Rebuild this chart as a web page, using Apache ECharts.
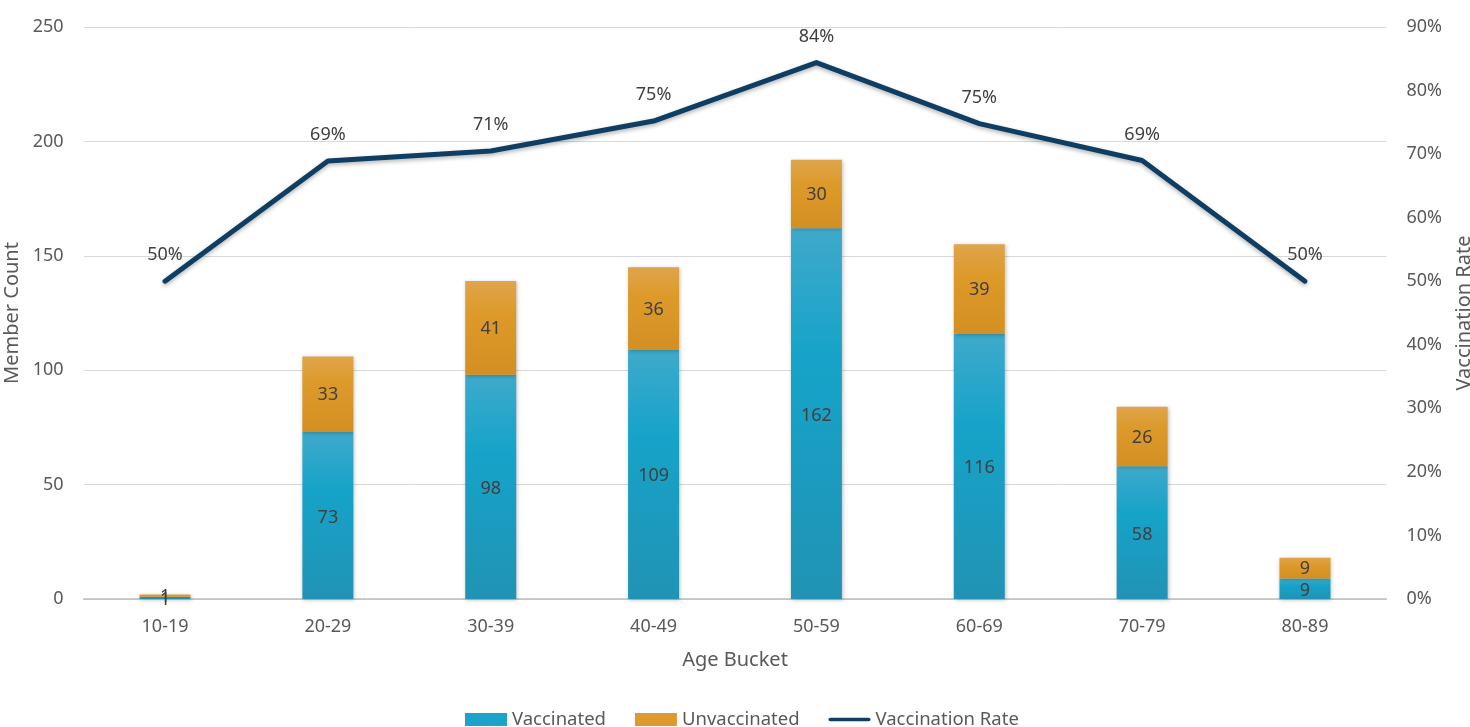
<!DOCTYPE html>
<html><head><meta charset="utf-8">
<script src="https://cdn.jsdelivr.net/npm/echarts@6/dist/echarts.min.js"></script>
<style>html,body{margin:0;padding:0;background:#fff;overflow:hidden}#c{width:1470px;height:727px}</style>
</head><body><div id="c"></div>
<script>
const categories = ['10-19','20-29','30-39','40-49','50-59','60-69','70-79','80-89'];
const vaccinated = [1, 73, 98, 109, 162, 116, 58, 9];
const unvaccinated = [1, 33, 41, 36, 30, 39, 26, 9];
const vaccinationRate = [0.50, 0.689, 0.705, 0.752, 0.844, 0.748, 0.690, 0.50];
const leftTicks = [0, 50, 100, 150, 200, 250];
const rightTicks = [0, 0.1, 0.2, 0.3, 0.4, 0.5, 0.6, 0.7, 0.8, 0.9];

const FONT = 'Noto Sans';
const txt = '#595959';
const chart = echarts.init(document.getElementById('c'));
const grad = (a, b, c) => new echarts.graphic.LinearGradient(0,0,0,1,[{offset:0,color:a},{offset:0.35,color:b},{offset:1,color:c}]);
chart.setOption({
  animation: false,
  textStyle: { fontFamily: FONT },
  grid: { left: 83.6, right: 83.6, top: 27, bottom: 128, containLabel: false, outerBoundsMode: 'none' },
  legend: {
    bottom: -7, left: 460, itemGap: 29, itemWidth: 42, itemHeight: 13,
    textStyle: { fontFamily: FONT, fontSize: 18.5, color: txt, padding: [0,0,0,0] },
    data: [
      { name: 'Vaccinated', icon: 'rect', itemStyle: { color: '#1ba3c9' } },
      { name: 'Unvaccinated', icon: 'rect', itemStyle: { color: '#dc9a30' } },
      { name: 'Vaccination Rate', icon: 'path://M2,0 L44,0 A2,2 0 0 1 44,4 L2,4 A2,2 0 0 1 2,0 Z', itemStyle: { color: '#0e3f63' } }
    ]
  },
  xAxis: {
    type: 'category', data: categories,
    axisLine: { lineStyle: { color: '#bfbfbf', width: 1.5 } },
    axisTick: { show: false },
    axisLabel: { fontSize: 18, color: txt, margin: 19, fontFamily: FONT },
    name: 'Age Bucket', nameLocation: 'middle', nameGap: 51,
    nameTextStyle: { fontSize: 20, color: txt, fontFamily: FONT }
  },
  yAxis: [{
    type: 'value', min: leftTicks[0], max: leftTicks[leftTicks.length-1], interval: 50,
    splitLine: { lineStyle: { color: '#d9d9d9', width: 1 } },
    axisLine: { show: false }, axisTick: { show: false },
    axisLabel: { fontSize: 18, color: txt, margin: 20, fontFamily: FONT },
    name: 'Member Count', nameLocation: 'middle', nameGap: 55, nameRotate: 90,
    nameTextStyle: { fontSize: 20, color: txt, fontFamily: FONT }
  }, {
    type: 'value', min: rightTicks[0], max: rightTicks[rightTicks.length-1], interval: 0.1,
    splitLine: { show: false }, axisLine: { show: false }, axisTick: { show: false },
    axisLabel: { fontSize: 18, color: txt, margin: 20, fontFamily: FONT,
      formatter: v => Math.round(v*100) + '%' },
    name: 'Vaccination Rate', nameLocation: 'middle', nameGap: 68, nameRotate: 90,
    nameTextStyle: { fontSize: 20, color: txt, fontFamily: FONT, verticalAlign: 'top' }
  }],
  series: [{
    name: 'Vaccinated', type: 'bar', stack: 'a', data: vaccinated, barWidth: 51,
    itemStyle: { color: grad('#3eaacb', '#16a3c9', '#2193b4'), shadowColor: 'rgba(0,0,0,0.25)', shadowBlur: 4, shadowOffsetX: 1, shadowOffsetY: 1 },
    label: { show: true, position: 'inside', fontSize: 18, color: '#404040', fontFamily: FONT, offset: [0, 2] }
  }, {
    name: 'Unvaccinated', type: 'bar', stack: 'a', data: unvaccinated, barWidth: 51,
    itemStyle: { color: grad('#dfa54c', '#dd9a2a', '#d48f22'), shadowColor: 'rgba(0,0,0,0.25)', shadowBlur: 4, shadowOffsetX: 1, shadowOffsetY: 1 },
    label: { show: true, position: 'inside', fontSize: 18, color: '#404040', fontFamily: FONT, offset: [0, 1] }
  }, {
    name: 'Vaccination Rate', type: 'line', yAxisIndex: 1, data: vaccinationRate,
    symbol: 'circle', symbolSize: 0.1, showSymbol: true, color: '#0e3f63',
    itemStyle: { color: '#0e3f63' },
    lineStyle: { color: '#0e3f63', width: 5, cap: 'round', join: 'round', shadowColor: 'rgba(0,0,0,0.3)', shadowBlur: 4, shadowOffsetY: 2 },
    label: { show: true, position: 'top', distance: 17, fontSize: 18, color: '#404040', fontFamily: FONT,
      formatter: p => Math.round(p.value*100) + '%' },
    labelLayout: { hideOverlap: false }
  }]
});
</script></body></html>
